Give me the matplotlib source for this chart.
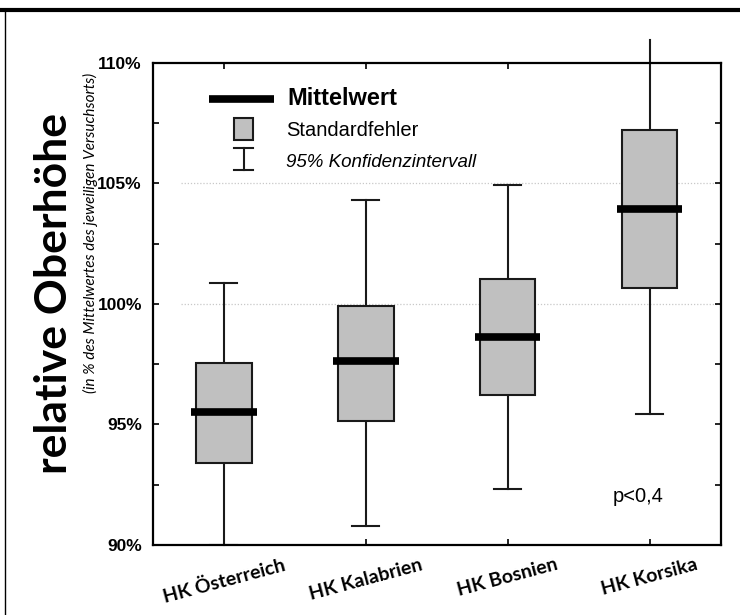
import matplotlib
matplotlib.use("Agg")
import matplotlib.pyplot as plt
from matplotlib.lines import Line2D
from matplotlib.patches import Rectangle
import numpy as np

# Werte (relative Oberhöhe in %)
herkuenfte = ['HK Österreich', 'HK Kalabrien', 'HK Bosnien', 'HK Korsika']
mittelwert = [95.53, 97.62, 98.64, 103.95]
se_unten = [93.39, 95.15, 96.20, 100.64]
se_oben = [97.54, 99.90, 101.02, 107.21]
ki_unten = [90.0, 90.78, 92.30, 95.42]
ki_oben = [100.88, 104.30, 104.93, 110.94]
y_ticks = [90, 95, 100, 105, 110]
y_ticklabels = ['90%', '95%', '100%', '105%', '110%']

box_w = 0.39
mean_w = 0.46
cap_w = 0.19
grau = '#c0c0c0'
rand = '#1a1a1a'

fig = plt.figure(figsize=(7.40, 6.15), dpi=100)
ax = fig.add_axes([0.2068, 0.114, 0.767, 0.784])

x = np.arange(len(herkuenfte))

# Gitterlinien (gepunktet)
for g in [100, 105]:
    ax.axhline(g, xmin=0.05, xmax=1, color='#c8c8c8', lw=0.9, ls=(0, (1, 1.5)), zorder=0)

for i in x:
    # Whisker = 95% Konfidenzintervall
    ax.plot([i, i], [ki_unten[i], se_unten[i]], color=rand, lw=1.5, zorder=2, clip_on=False)
    ax.plot([i, i], [se_oben[i], ki_oben[i]], color=rand, lw=1.5, zorder=2, clip_on=False)
    ax.plot([i - cap_w / 2, i + cap_w / 2], [ki_unten[i]] * 2, color=rand, lw=1.5, zorder=2)
    if ki_oben[i] <= 110:
        ax.plot([i - cap_w / 2, i + cap_w / 2], [ki_oben[i]] * 2, color=rand, lw=1.5, zorder=2)
    # Box = Standardfehler
    ax.add_patch(Rectangle((i - box_w / 2, se_unten[i]), box_w, se_oben[i] - se_unten[i],
                           facecolor=grau, edgecolor=rand, lw=1.5, zorder=3))
    # Mittelwert
    ax.plot([i - mean_w / 2, i + mean_w / 2], [mittelwert[i]] * 2, color='black',
            lw=5.5, solid_capstyle='butt', zorder=4)

# Legende von Hand
ax.plot([-0.109, 0.355], [108.5, 108.5], color='black', lw=5.5, solid_capstyle='butt')
ax.text(0.45, 108.5, 'Mittelwert', fontsize=17, fontweight='bold', va='center',
        family='Liberation Sans')
ax.add_patch(Rectangle((0.072, 106.8), 0.132, 0.9, facecolor=grau, edgecolor=rand, lw=1.5))
ax.text(0.44, 107.2, 'Standardfehler', fontsize=14.5, va='center', family='Liberation Sans')
ax.plot([0.138, 0.138], [105.56, 106.48], color=rand, lw=1.5)
ax.plot([0.072, 0.204], [106.48, 106.48], color=rand, lw=1.5)
ax.plot([0.072, 0.204], [105.56, 105.56], color=rand, lw=1.5)
ax.text(0.44, 105.85, '95% Konfidenzintervall', fontsize=13.5, style='italic', va='center',
        family='Liberation Sans')

ax.text(2.74, 92.0, 'p<0,4', fontsize=14.5, va='center', family='Liberation Sans')

ax.set_xlim(-0.5, 3.5)
ax.set_ylim(90, 110)
ax.set_xticks(x)
ax.set_xticklabels(herkuenfte, rotation=15, fontsize=14, fontweight='bold', family='Lato')
ax.set_yticks(y_ticks)
ax.set_yticklabels(y_ticklabels, fontsize=12.5, fontweight='bold', family='Liberation Sans')
ax.set_yticks([92.5, 97.5, 102.5, 107.5], minor=True)
ax.tick_params(axis='both', which='both', direction='in', top=True, right=True, length=4, width=1.2)
ax.tick_params(axis='y', which='major', pad=8)
ax.tick_params(axis='x', which='major', pad=8)
for s in ax.spines.values():
    s.set_linewidth(1.6)

# Achsentitel
fig.text(54 / 740, 1 - 293 / 615, 'relative Oberhöhe', rotation=90, fontsize=32,
         fontweight='bold', family='Lato', ha='center', va='center')
fig.text(90 / 740, 1 - 233 / 615, '(in % des Mittelwertes des jeweiligen Versuchsorts)',
         rotation=90, fontsize=11, style='italic', family='Lato', ha='center', va='center')

# Rahmen oben und links
fig.add_artist(Line2D([0, 1], [1 - 10 / 615] * 2, color='black', lw=3))
fig.add_artist(Line2D([5 / 740] * 2, [0, 1 - 10 / 615], color='black', lw=1))

fig.savefig('out.png', dpi=100)
